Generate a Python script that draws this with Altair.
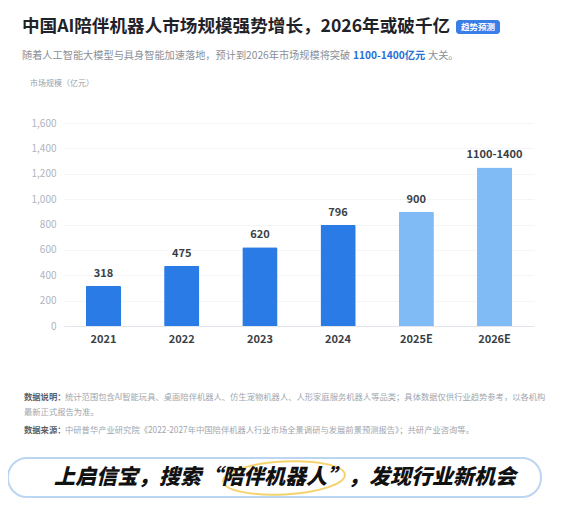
import altair as alt
import pandas as pd

FONT = "Noto Sans CJK SC"

years = ["2021", "2022", "2023", "2024", "2025E", "2026E"]
values = [318, 475, 620, 796, 900, 1250]
labels = ["318", "475", "620", "796", "900", "1100-1400"]
kinds = ["实际", "实际", "实际", "实际", "预测", "预测"]
y_ticks = [0, 200, 400, 600, 800, 1000, 1200, 1400, 1600]

title = "中国AI陪伴机器人市场规模强势增长，2026年或破千亿"
badge = "趋势预测"
sub_a = "随着人工智能大模型与具身智能加速落地，预计到2026年市场规模将突破"
sub_b = "1100-1400亿元"
sub_c = "大关。"
y_title = "市场规模（亿元）"
note_lbl = "数据说明："
note_1 = "统计范围包含AI智能玩具、桌面陪伴机器人、仿生宠物机器人、人形家庭服务机器人等品类；具体数据仅供行业趋势参考，以各机构"
note_2 = "最新正式报告为准。"
src_lbl = "数据来源："
src_1 = "中研普华产业研究院《2022-2027年中国陪伴机器人行业市场全景调研与发展前景预测报告》；共研产业咨询等。"
banner = "上启信宝，搜索“陪伴机器人”，发现行业新机会"

df = pd.DataFrame({"year": years, "value": values, "label": labels, "kind": kinds})

x = alt.X("year:N", sort=years,
          scale=alt.Scale(paddingInner=0.55, paddingOuter=0.28),
          axis=alt.Axis(title=None, labelAngle=0, labelFont=FONT, labelFontSize=11,
                        labelFontWeight="bold", labelColor="#3a3f47", labelPadding=7,
                        ticks=False, domainColor="#e1e5eb", grid=False))
y = alt.Y("value:Q", scale=alt.Scale(domain=[0, 1600], nice=False),
          axis=alt.Axis(title=None, values=y_ticks, format=",.0f", labelFont=FONT,
                        labelFontSize=10, labelColor="#b0b5be", labelPadding=8,
                        ticks=False, domain=False, gridColor="#f4f5f7"))

bars = alt.Chart(df).mark_bar(cornerRadiusTopLeft=1.5, cornerRadiusTopRight=1.5).encode(
    x=x, y=y,
    color=alt.Color("kind:N", scale=alt.Scale(domain=["实际", "预测"],
                                              range=["#2b7be6", "#80bbf6"]), legend=None))
vals = alt.Chart(df).mark_text(dy=-7, baseline="bottom", font=FONT, fontSize=11,
                               fontWeight="bold", color="#3a3f47").encode(
    x=x, y=y, text="label:N")


def txt(s, px, py, size, color, weight="normal", align="left", style="normal"):
    return alt.Chart(pd.DataFrame({"t": [s]})).mark_text(
        align=align, baseline="middle", font=FONT, fontSize=size, fontWeight=weight,
        fontStyle=style, color=color).encode(
        x=alt.value(px), y=alt.value(py), text="t:N")


def box(x1, x2, y1, y2, fill, stroke=None, r=0, sw=0):
    kw = dict(fill=fill, cornerRadius=r)
    if stroke:
        kw.update(stroke=stroke, strokeWidth=sw)
    return alt.Chart(pd.DataFrame({"a": [0]})).mark_rect(**kw).encode(
        x=alt.value(x1), x2=alt.value(x2), y=alt.value(y1), y2=alt.value(y2))


ellipse = alt.Chart(pd.DataFrame({"a": [0]})).mark_point(
    shape="M -1 0 A 1 0.27 0 1 1 1 0 A 1 0.27 0 1 1 -1 0 Z",
    size=122 * 122, filled=False, stroke="#f2c12e", strokeWidth=2, angle=357).encode(
    x=alt.value(220), y=alt.value(355))

layers = [
    bars, vals,
    txt(title, -42, -96, 17.6, "#1f2329", weight="bold"),
    box(392, 436, -103, -89, "#3a7fe8", r=3),
    txt(badge, 414, -96, 8.5, "#ffffff", weight="bold", align="center"),
    txt(sub_a, -42, -67, 10.2, "#8a9099"),
    txt(sub_b, 289, -67, 10.2, "#2a6fd6", weight="bold"),
    txt(sub_c, 364, -67, 10.2, "#8a9099"),
    txt(y_title, -34, -39, 8, "#9aa0a8"),
    txt(note_lbl, -40, 275, 8.3, "#5a6068", weight="bold"),
    txt(note_1, 1, 275, 8.3, "#a0a6ae"),
    txt(note_2, -40, 290, 8.3, "#a0a6ae"),
    txt(src_lbl, -40, 308, 8.3, "#5a6068", weight="bold"),
    txt(src_1, 1, 308, 8.3, "#a0a6ae"),
    box(-56, 477, 335, 374, "#ffffff", stroke="#bcd5f0", r=19, sw=2),
    ellipse,
    txt(banner, 221, 355, 21, "#111111", weight=900, align="center", style="italic"),
]

chart = alt.layer(*layers).properties(
    width=470, height=203,
    autosize=alt.AutoSizeParams(type="none"),
    padding={"left": 56, "top": 115, "right": 20, "bottom": 176},
).configure_view(stroke=None)

chart.save("out.html", embed_options={"renderer": "svg", "actions": False})
